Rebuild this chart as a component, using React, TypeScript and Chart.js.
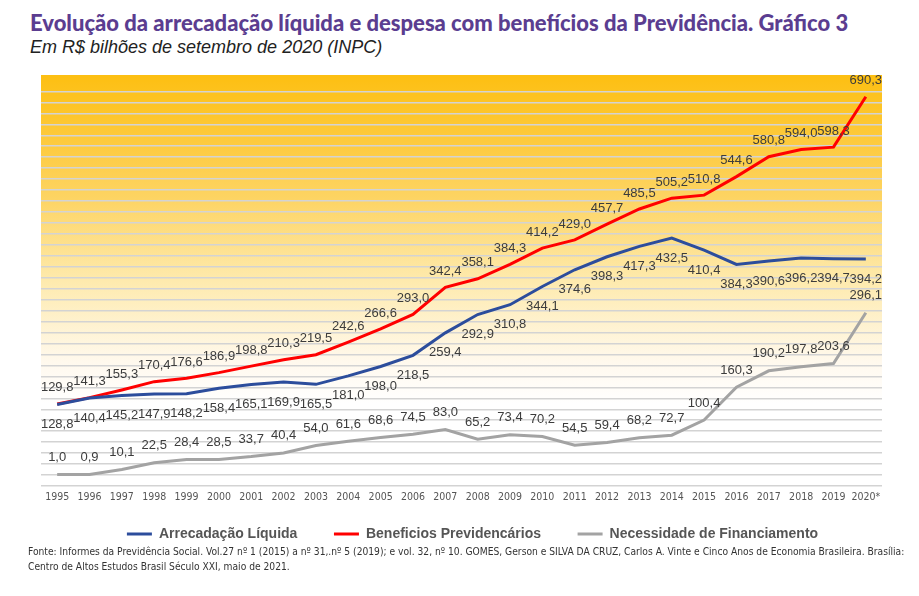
import { useEffect, useRef } from "react";
import { Chart, registerables } from "chart.js";

Chart.register(...registerables);

const years = [
  "1995", "1996", "1997", "1998", "1999", "2000", "2001", "2002", "2003", "2004",
  "2005", "2006", "2007", "2008", "2009", "2010", "2011", "2012", "2013", "2014",
  "2015", "2016", "2017", "2018", "2019", "2020*",
];

const arrecadacaoLiquida = [
  128.8, 140.4, 145.2, 147.9, 148.2, 158.4, 165.1, 169.9, 165.5, 181.0,
  198.0, 218.5, 259.4, 292.9, 310.8, 344.1, 374.6, 398.3, 417.3, 432.5,
  410.4, 384.3, 390.6, 396.2, 394.7, 394.2,
];

const beneficiosPrevidenciarios = [
  129.8, 141.3, 155.3, 170.4, 176.6, 186.9, 198.8, 210.3, 219.5, 242.6,
  266.6, 293.0, 342.4, 358.1, 384.3, 414.2, 429.0, 457.7, 485.5, 505.2,
  510.8, 544.6, 580.8, 594.0, 598.3, 690.3,
];

const necessidadeFinanciamento = [
  1.0, 0.9, 10.1, 22.5, 28.4, 28.5, 33.7, 40.4, 54.0, 61.6,
  68.6, 74.5, 83.0, 65.2, 73.4, 70.2, 54.5, 59.4, 68.2, 72.7,
  100.4, 160.3, 190.2, 197.8, 203.6, 296.1,
];

const seriesNames = [
  "Arrecadação Líquida",
  "Beneficios Previdencários",
  "Necessidade de Financiamento",
];

const yMin = -20;
const yMax = 730;
const yStep = 20;

const fmt = (v: number) => v.toFixed(1).replace(".", ",");

// vertical offsets of value labels relative to the point (px)
const labelOffsets = [20, -16, -17];

const bgPlugin = {
  id: "gradientBg",
  beforeDraw(chart: any) {
    const { ctx, chartArea: a } = chart;
    if (!a) return;
    const g = ctx.createLinearGradient(0, a.top, 0, a.bottom);
    g.addColorStop(0, "#fdbf12");
    g.addColorStop(0.3, "#fdd463");
    g.addColorStop(0.5, "#feeaad");
    g.addColorStop(0.7, "#fff9ee");
    g.addColorStop(0.8, "#ffffff");
    ctx.save();
    ctx.fillStyle = g;
    ctx.fillRect(a.left, a.top, a.right - a.left, a.bottom - a.top);
    ctx.restore();
  },
};

const valuesPlugin = {
  id: "valueLabels",
  afterDatasetsDraw(chart: any) {
    const ctx = chart.ctx;
    ctx.save();
    ctx.font = "13px 'Liberation Sans', Arial, sans-serif";
    ctx.fillStyle = "#3c3c3c";
    ctx.textAlign = "center";
    ctx.textBaseline = "middle";
    chart.data.datasets.forEach((ds: any, i: number) => {
      const meta = chart.getDatasetMeta(i);
      meta.data.forEach((pt: any, j: number) => {
        ctx.fillText(fmt(ds.data[j]), pt.x, pt.y + labelOffsets[i]);
      });
    });
    ctx.restore();
  },
};

const NBSP = "\u00a0\u00a0\u00a0\u00a0";

export default function App() {
  const ref = useRef<HTMLCanvasElement>(null);

  useEffect(() => {
    const chart = new Chart(ref.current as HTMLCanvasElement, {
      type: "line",
      data: {
        labels: years,
        datasets: [
          {
            label: seriesNames[0],
            data: arrecadacaoLiquida,
            borderColor: "#2c4d9c",
            backgroundColor: "#2c4d9c",
            borderWidth: 3,
            pointRadius: 0,
            pointStyle: "line",
            tension: 0,
          },
          {
            label: seriesNames[1],
            data: beneficiosPrevidenciarios,
            borderColor: "#ff0000",
            backgroundColor: "#ff0000",
            borderWidth: 3,
            pointRadius: 0,
            pointStyle: "line",
            tension: 0,
          },
          {
            label: seriesNames[2],
            data: necessidadeFinanciamento,
            borderColor: "#a3a3a3",
            backgroundColor: "#a3a3a3",
            borderWidth: 3,
            pointRadius: 0,
            pointStyle: "line",
            tension: 0,
          },
        ],
      },
      options: {
        animation: false,
        responsive: true,
        maintainAspectRatio: false,
        layout: { padding: { top: 13, left: 41, right: 15, bottom: 0 } },
        plugins: {
          tooltip: { enabled: false },
          title: { display: false },
          legend: {
            position: "bottom",
            labels: {
              usePointStyle: true,
              pointStyleWidth: 25,
              padding: 21,
              color: "#555555",
              font: { family: "'Liberation Sans', Arial, sans-serif", size: 14, weight: "bold" },
              generateLabels: (c: any) => {
                const items = Chart.defaults.plugins.legend.labels.generateLabels(c);
                return items.map((it: any, i: number) => ({
                  ...it,
                  text: i < items.length - 1 ? it.text + NBSP : it.text,
                }));
              },
            },
          },
        },
        scales: {
          x: {
            offset: true,
            grid: { display: false, drawTicks: false },
            border: { display: false },
            ticks: {
              autoSkip: false,
              maxRotation: 0,
              padding: 5,
              color: "#555555",
              font: { family: "'Liberation Sans Narrow', 'DejaVu Sans Condensed', 'Liberation Sans', sans-serif", size: 10.5 },
            },
            afterFit: (s: any) => {
              s.height = 20;
            },
          },
          y: {
            position: "right",
            min: yMin,
            max: yMax,
            grid: {
              drawTicks: false,
              lineWidth: 1.5,
              color: (c: any) =>
                c.tick && c.tick.value > 720 ? "rgba(0,0,0,0)" : "#d3d3d3",
            },
            border: { display: false },
            ticks: { display: false, stepSize: yStep },
            afterFit: (s: any) => {
              s.width = 22;
            },
          },
        },
      },
      plugins: [bgPlugin, valuesPlugin],
    });
    return () => chart.destroy();
  }, []);

  return (
    <div
      style={{
        position: "absolute",
        left: 0,
        top: 0,
        width: 919,
        height: 596,
        background: "#ffffff",
        overflow: "hidden",
      }}
    >
      <div
        style={{
          position: "absolute",
          left: 30,
          top: 10,
          font: "900 22px Lato, sans-serif",
          lineHeight: "26px",
          color: "#5b3d90",
          whiteSpace: "nowrap",
        }}
      >
        Evolução da arrecadação líquida e despesa com benefícios da Previdência. Gráfico 3
      </div>
      <div
        style={{
          position: "absolute",
          left: 30,
          top: 37,
          font: "italic 18px 'Liberation Sans', Arial, sans-serif",
          color: "#222222",
          whiteSpace: "nowrap",
        }}
      >
        Em R$ bilhões de setembro de 2020 (INPC)
      </div>
      <div style={{ position: "absolute", left: 0, top: 62, width: 919, height: 489 }}>
        <canvas ref={ref} />
      </div>
      <div
        style={{
          position: "absolute",
          left: 28,
          top: 544,
          width: 885,
          font: "10.2px 'Liberation Sans Narrow', 'DejaVu Sans Condensed', 'Liberation Sans', sans-serif",
          lineHeight: "15px",
          color: "#333333",
        }}
      >
        Fonte: Informes da Previdência Social. Vol.27 nº 1 (2015) a nº 31,.nº 5 (2019); e vol. 32, nº 10. GOMES, Gerson e SILVA DA CRUZ, Carlos A. Vinte e Cinco Anos de Economia Brasileira. Brasília: Centro de Altos Estudos Brasil Século XXI, maio de 2021.
      </div>
    </div>
  );
}
